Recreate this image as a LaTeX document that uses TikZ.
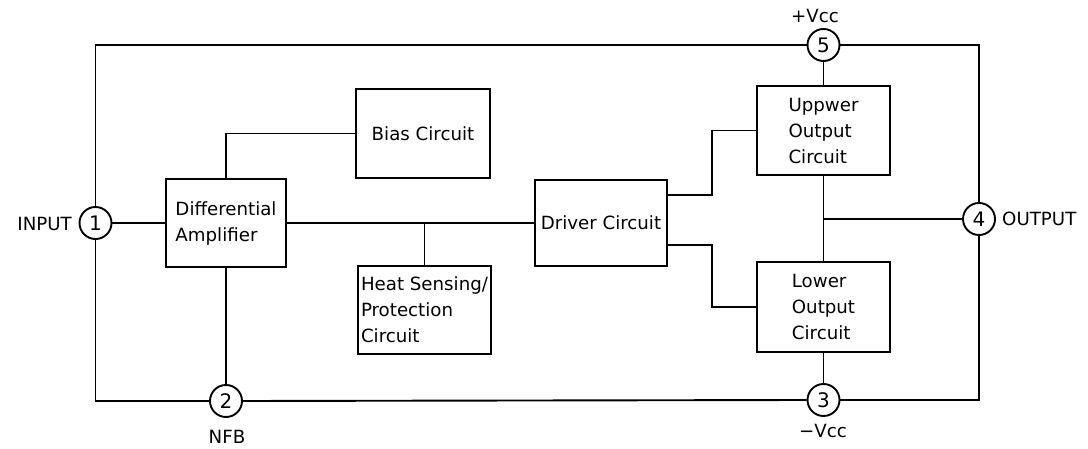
\documentclass[tikz,border=0pt]{standalone}
\usepackage{fontspec}
\setmainfont{DejaVu Sans}
\usetikzlibrary{calc}
\begin{document}
\begin{tikzpicture}[x=1pt,y=-1pt,
  blk/.style={draw, rectangle, line width=1.9pt, inner sep=0pt, align=left, font=\fontsize{18.2}{26}\selectfont},
  pin/.style={draw, circle, line width=1.9pt, minimum size=32pt, inner sep=0pt, font=\fontsize{20}{20}\selectfont},
  lbl/.style={inner sep=0pt, font=\fontsize{18.2}{20}\selectfont},
  wire/.style={line width=1.9pt}]
\useasboundingbox (0,0) rectangle (1088,449);

% blocks
\node[blk, minimum width=120pt, minimum height=88pt] (diff) at (226,223) {Differential\\Amplifier};
\node[blk, minimum width=134pt, minimum height=89pt] (bias) at (423,133.5) {Bias Circuit};
\node[blk, minimum width=133pt, minimum height=88pt] (heat) at (424.5,310) {Heat Sensing/\\Protection\\Circuit};
\node[blk, minimum width=132pt, minimum height=86pt] (driver) at (601,223) {Driver Circuit};
\node[blk, minimum width=133pt, minimum height=89pt] (upper) at (823.5,130.5) {Uppwer\\Output\\Circuit};
\node[blk, minimum width=133pt, minimum height=90pt] (lower) at (823.5,307) {Lower\\Output\\Circuit};

% pins
\node[pin] (c1) at (95.5,223) {1};
\node[pin] (c2) at (226,401) {2};
\node[pin] (c3) at (823.5,400) {3};
\node[pin] (c4) at (979,219) {4};
\node[pin] (c5) at (823.5,45) {5};

% pin labels
\node[lbl, anchor=east] (tin) at (72,224) {INPUT};
\node[lbl] (tnfb) at (227,437) {NFB};
\node[lbl] (tmv) at (823,431) {−Vcc};
\node[lbl, anchor=west] (tout) at (1002,219) {OUTPUT};
\node[lbl] (tpv) at (815,16) {+Vcc};

% frame
\draw[wire] (c1.north) |- (c5.west);
\draw[wire] (c5.east) -| (c4.north);
\draw[wire] (c1.south) |- (c2.west);
\draw[wire] (c2.east) -- (c3.west);
\draw[wire] (c3.east) -| (c4.south);

% internal connections
\draw[wire] (c1.east) -- (diff.west);
\draw[wire] (diff.north) |- (bias.west);
\draw[wire] (diff.south) -- (c2.north);
\draw[wire] (diff.east) -- (driver.west);
\coordinate (hj) at (heat.north |- driver.west);
\draw[wire] (heat.north) -- (hj);
\coordinate (ue) at ($(upper.west)+(-44,0)$);
\coordinate (le) at ($(lower.west)+(-44,0)$);
\draw[wire] ($(driver.east)+(0,-28)$) -| (ue) -- (upper.west);
\draw[wire] ($(driver.east)+(0,22)$) -| (le) -- (lower.west);
\draw[wire] (c5.south) -- (upper.north);
\draw[wire] (upper.south) -- (lower.north);
\draw[wire] (lower.south) -- (c3.north);
\coordinate (oj) at (upper.south |- c4.west);
\draw[wire] (oj) -- (c4.west);
\end{tikzpicture}
\end{document}
